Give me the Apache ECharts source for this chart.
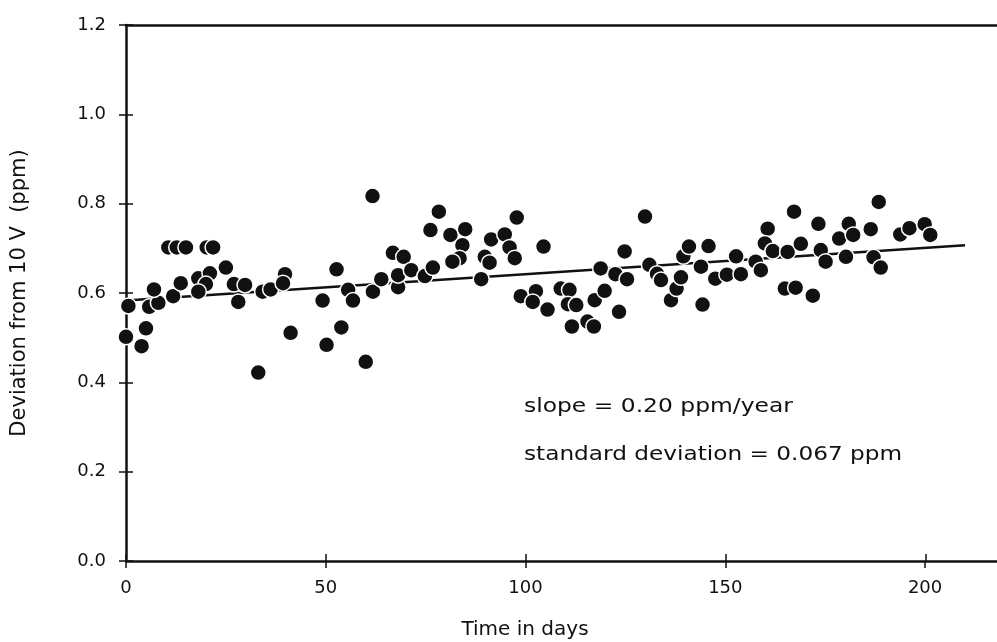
<!DOCTYPE html>
<html>
<head>
<meta charset="utf-8">
<script src="https://cdn.jsdelivr.net/npm/echarts@6/dist/echarts.min.js"></script>
<style>
  html, body { margin: 0; padding: 0; background: #fff; }
  #chart { width: 997px; height: 642px; }
</style>
</head>
<body>
<div id="chart"></div>
<script>
// days and deviation (ppm)
const days = [
    0.6, 0, 3.9, 5.0, 5.8, 8.1, 7.0, 11.8, 13.7, 10.6,
    12.7, 15.0, 20.2, 21.8, 18.1, 21.0, 20.0, 18.1, 25.0, 27.0,
    29.8, 28.1, 33.1, 34.2, 36.2, 39.8, 39.3, 41.2, 49.2, 52.7,
    53.9, 50.2, 55.6, 56.8, 61.7, 60.0, 61.8, 63.9, 66.8, 69.5,
    68.1, 68.1, 71.4, 74.8, 76.8, 78.3, 76.2, 81.2, 84.9, 84.2,
    83.5, 81.7, 88.9, 89.8, 91.0, 91.4, 94.8, 96.0, 97.3, 97.8,
    104.5, 98.8, 102.6, 101.8, 105.5, 108.8, 111.0, 110.6, 112.7, 111.6,
    115.5, 117.1, 117.3, 119.8, 118.8, 122.5, 125.4, 124.8, 123.4, 129.9,
    131.0, 132.9, 133.9, 136.4, 137.8, 138.9, 139.5, 140.9, 145.8, 143.9,
    144.3, 147.5, 150.4, 153.9, 152.7, 157.6, 158.9, 160.6, 159.9, 161.9,
    165.6, 167.2, 168.9, 164.9, 167.6, 171.9, 173.3, 173.9, 175.1, 178.5,
    180.9, 182.0, 180.2, 186.4, 187.1, 188.4, 188.9, 193.8, 196.1, 199.9,
    201.3
];
const deviation = [
    0.571, 0.502, 0.481, 0.521, 0.569, 0.578, 0.608, 0.593, 0.622, 0.702,
    0.702, 0.702, 0.702, 0.702, 0.633, 0.644, 0.620, 0.603, 0.657, 0.620,
    0.618, 0.580, 0.422, 0.603, 0.608, 0.642, 0.622, 0.511, 0.583, 0.653,
    0.523, 0.484, 0.607, 0.583, 0.817, 0.446, 0.603, 0.631, 0.690, 0.681,
    0.613, 0.640, 0.651, 0.638, 0.657, 0.782, 0.741, 0.730, 0.743, 0.707,
    0.678, 0.670, 0.631, 0.681, 0.668, 0.720, 0.731, 0.702, 0.678, 0.769,
    0.704, 0.593, 0.604, 0.580, 0.563, 0.610, 0.607, 0.575, 0.573, 0.525,
    0.536, 0.525, 0.584, 0.605, 0.655, 0.642, 0.631, 0.693, 0.558, 0.771,
    0.663, 0.643, 0.629, 0.584, 0.610, 0.635, 0.682, 0.704, 0.705, 0.659,
    0.574, 0.632, 0.641, 0.642, 0.682, 0.670, 0.651, 0.744, 0.711, 0.694,
    0.692, 0.782, 0.710, 0.610, 0.612, 0.594, 0.755, 0.696, 0.670, 0.722,
    0.755, 0.730, 0.681, 0.743, 0.680, 0.804, 0.657, 0.731, 0.745, 0.754,
    0.730
];
// fitted trend line end points
const trendDays = [0, 210];
const trendValues = [0.583, 0.707];

const xTicks = [0, 50, 100, 150, 200];
const yTicks = [0.0, 0.2, 0.4, 0.6, 0.8, 1.0, 1.2];

const font = '"DejaVu Sans", Lato, sans-serif';
const ink = '#111';

const chart = echarts.init(document.getElementById('chart'), null, { renderer: 'canvas' });

const tickStyle = { color: ink, width: 1.5 };
// grid 0 carries the data; grid 1 (0..200 days only) draws the inner halves of the ticks
const box = { left: 126, right: 0, top: 25, bottom: 81, outerBoundsMode: 'none', containLabel: false };
const tickBox = { left: 126, right: 71, top: 25, bottom: 81, outerBoundsMode: 'none', containLabel: false };
const clearLine = { show: true, onZero: false, lineStyle: { color: 'rgba(0,0,0,0)', width: 1 } };

const option = {
    animation: false,
    backgroundColor: '#fff',
    textStyle: { fontFamily: font, color: ink },
    grid: [box, tickBox],
    xAxis: [
        {
            type: 'value',
            gridIndex: 0,
            min: 0,
            max: 218,
            position: 'bottom',
            splitLine: { show: false },
            axisLine: { onZero: false, lineStyle: { color: ink, width: 2.5 } },
            axisTick: { length: 7, customValues: xTicks, lineStyle: tickStyle },
            axisLabel: { fontSize: 18, color: ink, margin: 18, customValues: xTicks }
        },
        {
            // top border of the frame
            type: 'value', gridIndex: 0, min: 0, max: 218, position: 'top',
            splitLine: { show: false },
            axisLine: { onZero: false, lineStyle: { color: ink, width: 2.5 } },
            axisTick: { show: false },
            axisLabel: { show: false }
        },
        {
            type: 'value', gridIndex: 1, min: 0, max: 200, interval: 50, position: 'bottom',
            splitLine: { show: false },
            axisLine: clearLine,
            axisTick: { show: true, inside: true, length: 7, lineStyle: tickStyle },
            axisLabel: { show: false }
        }
    ],
    yAxis: [
        {
            type: 'value',
            gridIndex: 0,
            min: 0,
            max: 1.2,
            name: 'Deviation from 10 V  (ppm)',
            nameLocation: 'middle',
            nameGap: 96,
            nameTextStyle: { fontSize: 21, color: ink, fontFamily: font },
            splitLine: { show: false },
            axisLine: { onZero: false, lineStyle: { color: ink, width: 2.5 } },
            axisTick: { length: 7, customValues: yTicks, lineStyle: tickStyle },
            axisLabel: {
                fontSize: 18, color: ink, margin: 20, customValues: yTicks,
                formatter: v => v.toFixed(1)
            }
        },
        {
            type: 'value', gridIndex: 1, min: 0, max: 1.2, interval: 0.2, position: 'left',
            splitLine: { show: false },
            axisLine: clearLine,
            axisTick: { show: true, inside: true, length: 7, lineStyle: tickStyle },
            axisLabel: { show: false }
        }
    ],
    series: [
        {
            // empty series so the second grid's axes get laid out
            name: 'ticks',
            type: 'scatter',
            xAxisIndex: 2,
            yAxisIndex: 1,
            data: [],
            silent: true
        },
        {
            name: 'trend',
            type: 'line',
            xAxisIndex: 0,
            yAxisIndex: 0,
            data: trendDays.map((d, i) => [d, trendValues[i]]),
            symbol: 'none',
            lineStyle: { color: ink, width: 2.5 },
            z: 2
        },
        {
            name: 'deviation',
            type: 'scatter',
            xAxisIndex: 0,
            yAxisIndex: 0,
            data: days.map((d, i) => [d, deviation[i]]),
            symbol: 'circle',
            symbolSize: 16,
            itemStyle: { color: ink, borderColor: '#fff', borderWidth: 1.5, opacity: 1 },
            z: 3
        }
    ],
    graphic: [
        {
            type: 'text', x: 525, y: 630,
            style: {
                text: 'Time in days', font: '20px ' + font, fill: ink,
                align: 'center', verticalAlign: 'middle'
            }
        },
        {
            type: 'text', x: 524, y: 407, scaleX: 1.17,
            style: {
                text: 'slope = 0.20 ppm/year', font: '20px ' + font, fill: ink,
                verticalAlign: 'middle'
            }
        },
        {
            type: 'text', x: 524, y: 455, scaleX: 1.16,
            style: {
                text: 'standard deviation = 0.067 ppm', font: '20px ' + font, fill: ink,
                verticalAlign: 'middle'
            }
        }
    ]
};

chart.setOption(option);
</script>
</body>
</html>
